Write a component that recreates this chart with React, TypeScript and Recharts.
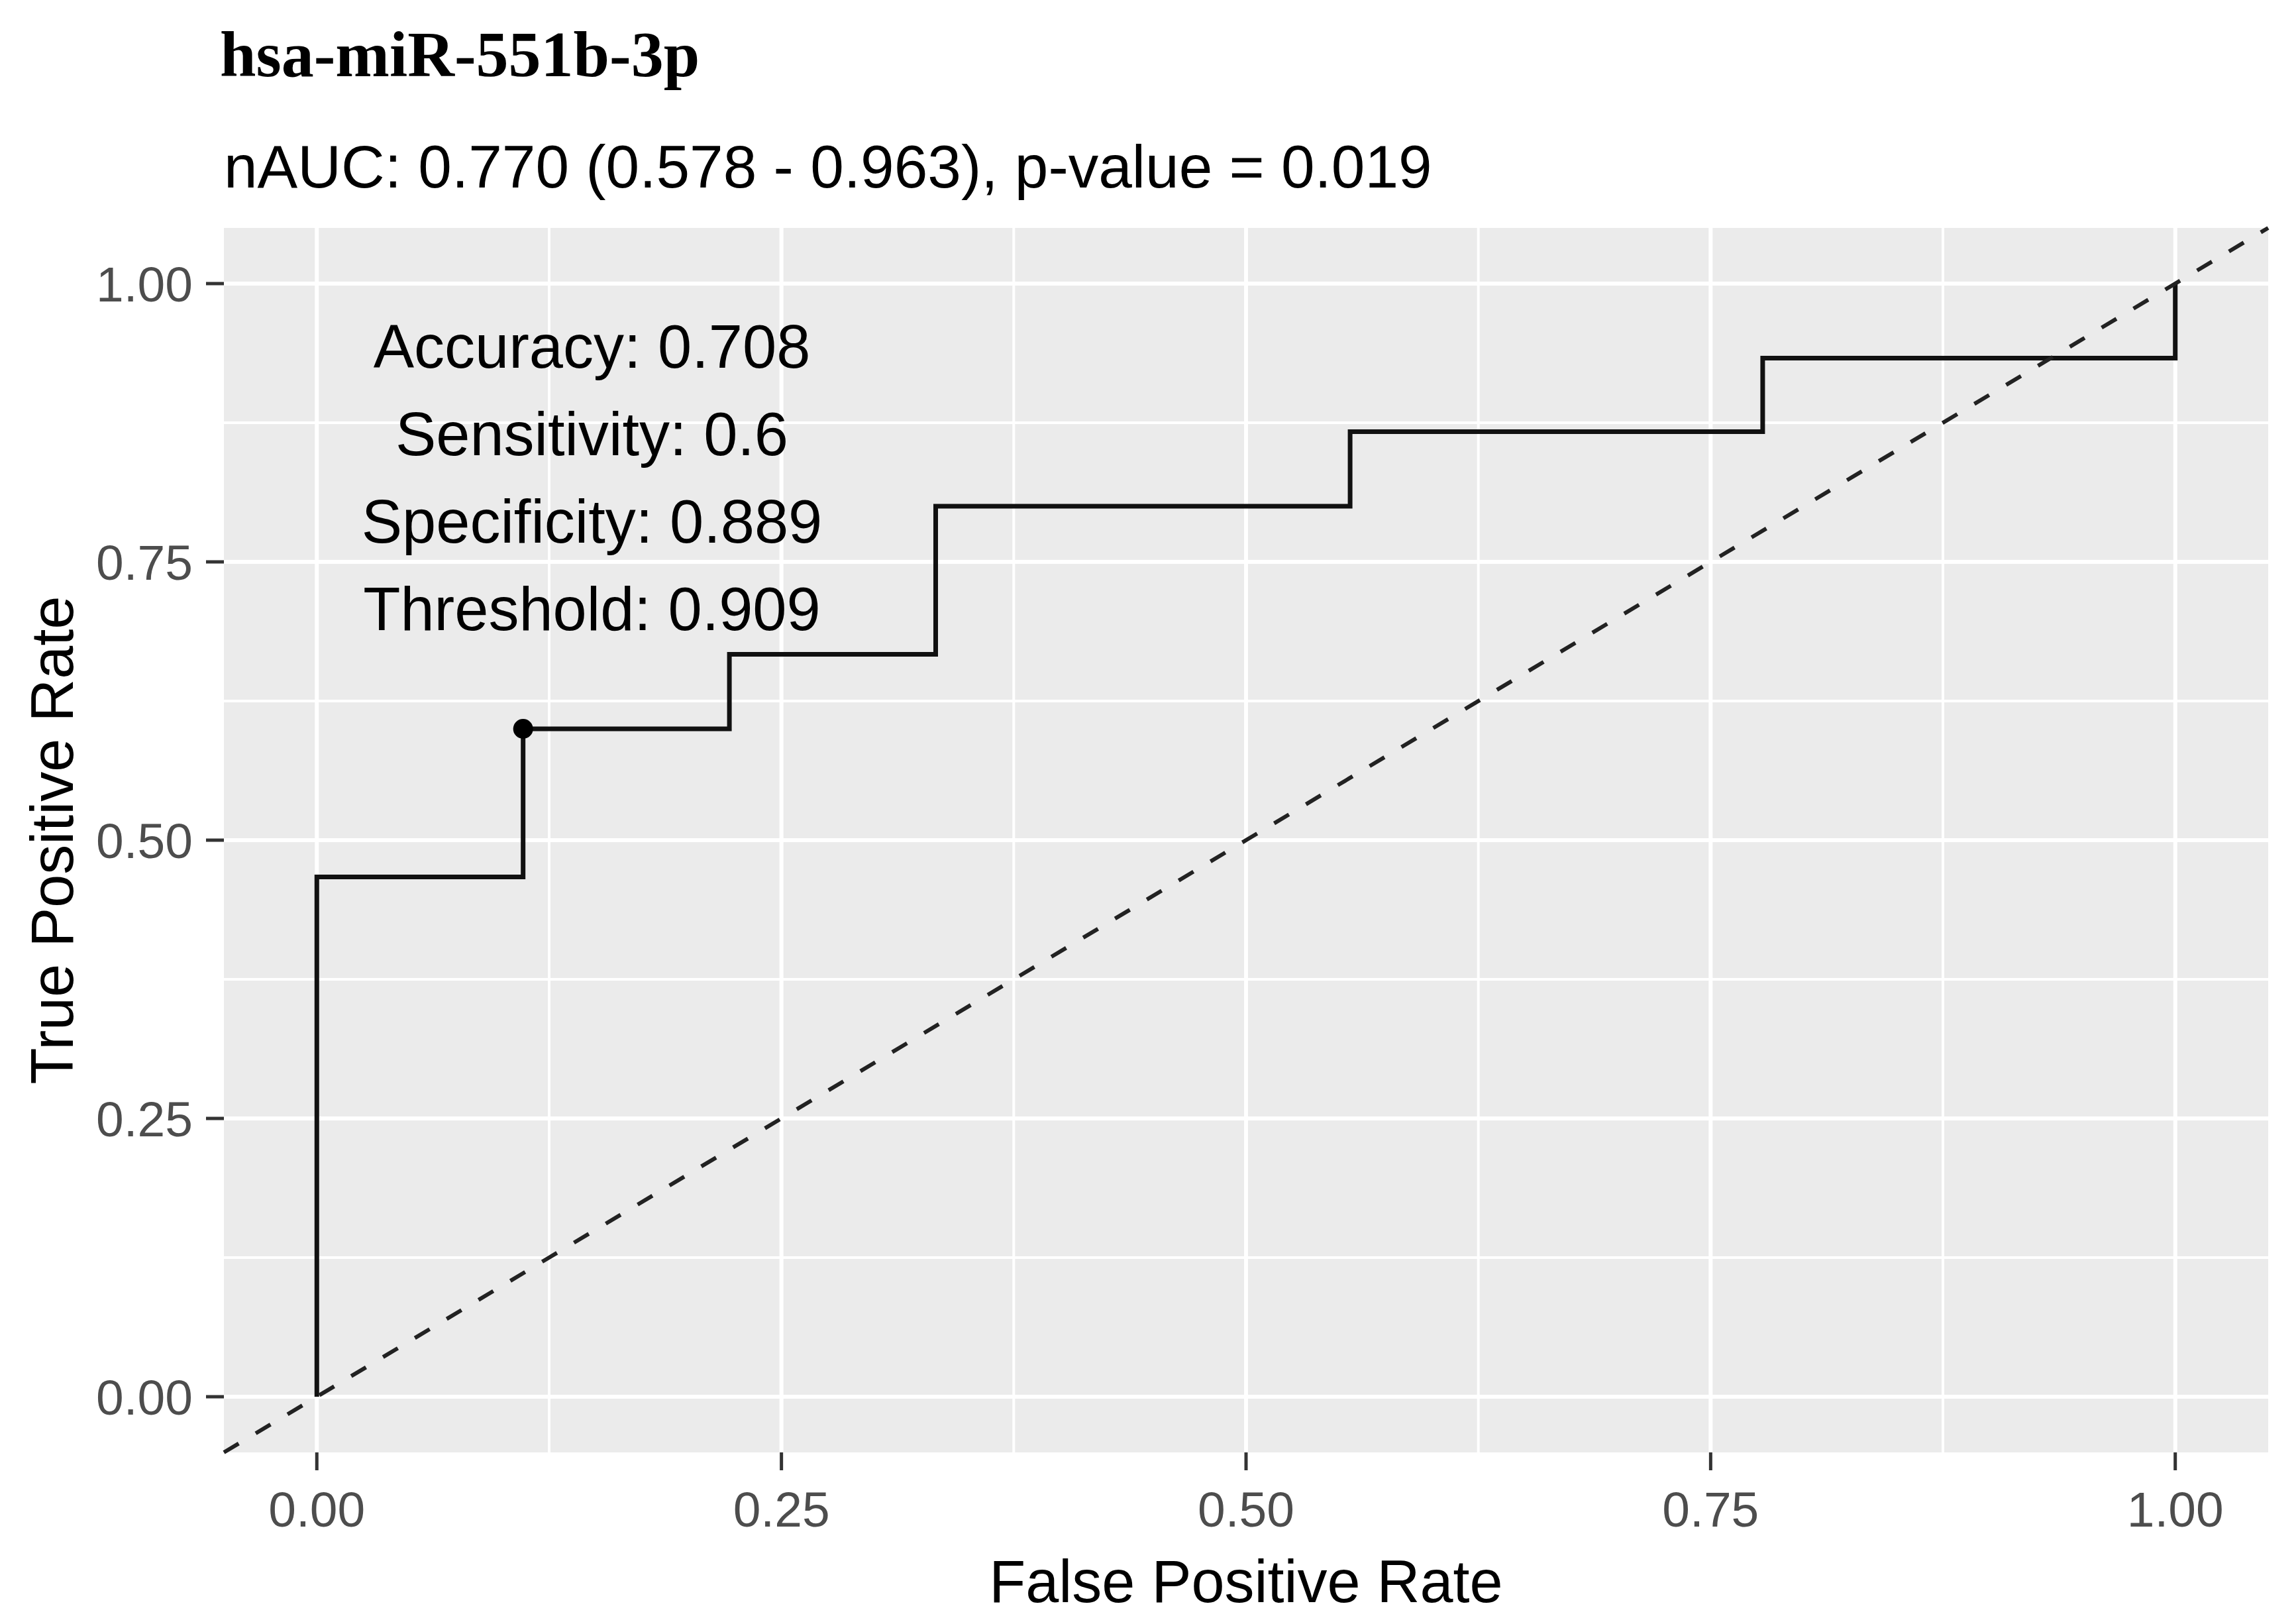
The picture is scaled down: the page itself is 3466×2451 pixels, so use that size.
import React from "react"
import { ComposedChart, Line, Scatter, XAxis, YAxis, CartesianGrid, ReferenceLine, Label } from "recharts"

// ROC curve points (false positive rate / true positive rate)
const fpr = [0, 0, 0.111, 0.222, 0.333, 0.556, 0.778, 1.0]
const tpr = [0, 0.467, 0.6, 0.667, 0.8, 0.867, 0.933, 1.0]

const majorTicks = [0, 0.25, 0.5, 0.75, 1]
const minorTicks = [0.125, 0.375, 0.625, 0.875]

const bestFpr = 0.111
const bestTpr = 0.6

const statLines = ["Accuracy: 0.708", "Sensitivity: 0.6", "Specificity: 0.889", "Threshold: 0.909"]
const statAnchorFpr = 0.148
const statAnchorTpr = 0.826

const titleText = "hsa-miR-551b-3p"
const subtitleText = "nAUC: 0.770 (0.578 - 0.963), p-value = 0.019"

const rocData = fpr.map((x, i) => ({ fpr: x, tpr: tpr[i] }))

const SANS = "'Liberation Sans', Arial, sans-serif"
const SERIF = "'Liberation Serif', 'Times New Roman', serif"

const W = 3466
const H = 2451

function StatBlock(props: any) {
  const { cx, cy } = props
  return (
    <g>
      {statLines.map((t, i) => (
        <text
          key={t}
          x={cx}
          y={cy - 165 + i * 132}
          textAnchor="middle"
          fontFamily={SANS}
          fontSize={92}
          fill="#000"
        >
          {t}
        </text>
      ))}
    </g>
  )
}

export default function App() {
  const tickStyle = { fill: "#4D4D4D", fontSize: 75, fontFamily: SANS }
  const tickLine = { stroke: "#333333", strokeWidth: 5 }

  return (
    <div style={{ position: "relative", width: W, height: H, background: "#fff" }}>
      <style>{"body{margin:0}"}</style>
      <ComposedChart width={W} height={H} margin={{ top: 344, right: 42, left: 0, bottom: 0 }}>
        <CartesianGrid
          fill="#EBEBEB"
          stroke="#ffffff"
          strokeWidth={4}
          horizontalValues={minorTicks}
          verticalValues={minorTicks}
        />
        <CartesianGrid
          stroke="#ffffff"
          strokeWidth={6}
          horizontalValues={majorTicks}
          verticalValues={majorTicks}
        />
        <XAxis
          type="number"
          dataKey="fpr"
          domain={[-0.05, 1.05]}
          allowDataOverflow
          ticks={majorTicks}
          tickFormatter={(v: number) => v.toFixed(2)}
          tick={tickStyle}
          tickLine={tickLine}
          axisLine={false}
          tickSize={27}
          tickMargin={32}
          height={259}
        >
          <Label
            value="False Positive Rate"
            position="insideBottom"
            offset={33}
            style={{ fontSize: 90, fontFamily: SANS, fill: "#000" }}
          />
        </XAxis>
        <YAxis
          type="number"
          dataKey="tpr"
          domain={[-0.05, 1.05]}
          allowDataOverflow
          ticks={majorTicks}
          tickFormatter={(v: number) => v.toFixed(2)}
          tick={tickStyle}
          tickLine={tickLine}
          axisLine={false}
          tickSize={27}
          tickMargin={20}
          width={338}
        >
          <Label
            value="True Positive Rate"
            angle={-90}
            position="insideLeft"
            offset={78}
            style={{ fontSize: 90, fontFamily: SANS, fill: "#000", textAnchor: "middle" }}
          />
        </YAxis>
        <Line
          data={rocData}
          dataKey="tpr"
          type="stepAfter"
          stroke="#111"
          strokeWidth={7}
          dot={false}
          activeDot={false}
          isAnimationActive={false}
        />
        <ReferenceLine
          segment={[
            { x: -0.05, y: -0.05 },
            { x: 1.05, y: 1.05 },
          ]}
          stroke="#222222"
          strokeWidth={6}
          strokeDasharray="26 30"
        />
        <Scatter
          data={[{ fpr: bestFpr, tpr: bestTpr }]}
          dataKey="tpr"
          fill="#000"
          shape={(p: any) => <circle cx={p.cx} cy={p.cy} r={15} fill="#000" />}
          isAnimationActive={false}
        />
        <Scatter
          data={[{ fpr: statAnchorFpr, tpr: statAnchorTpr }]}
          dataKey="tpr"
          shape={StatBlock}
          isAnimationActive={false}
        />
      </ComposedChart>
      <svg
        width={W}
        height={H}
        style={{ position: "absolute", left: 0, top: 0, pointerEvents: "none" }}
      >
        <text x={332} y={115} fontFamily={SERIF} fontWeight="bold" fontSize={98} fill="#000">
          {titleText}
        </text>
        <text x={338} y={283} fontFamily={SANS} fontSize={91} fill="#000">
          {subtitleText}
        </text>
      </svg>
    </div>
  )
}
